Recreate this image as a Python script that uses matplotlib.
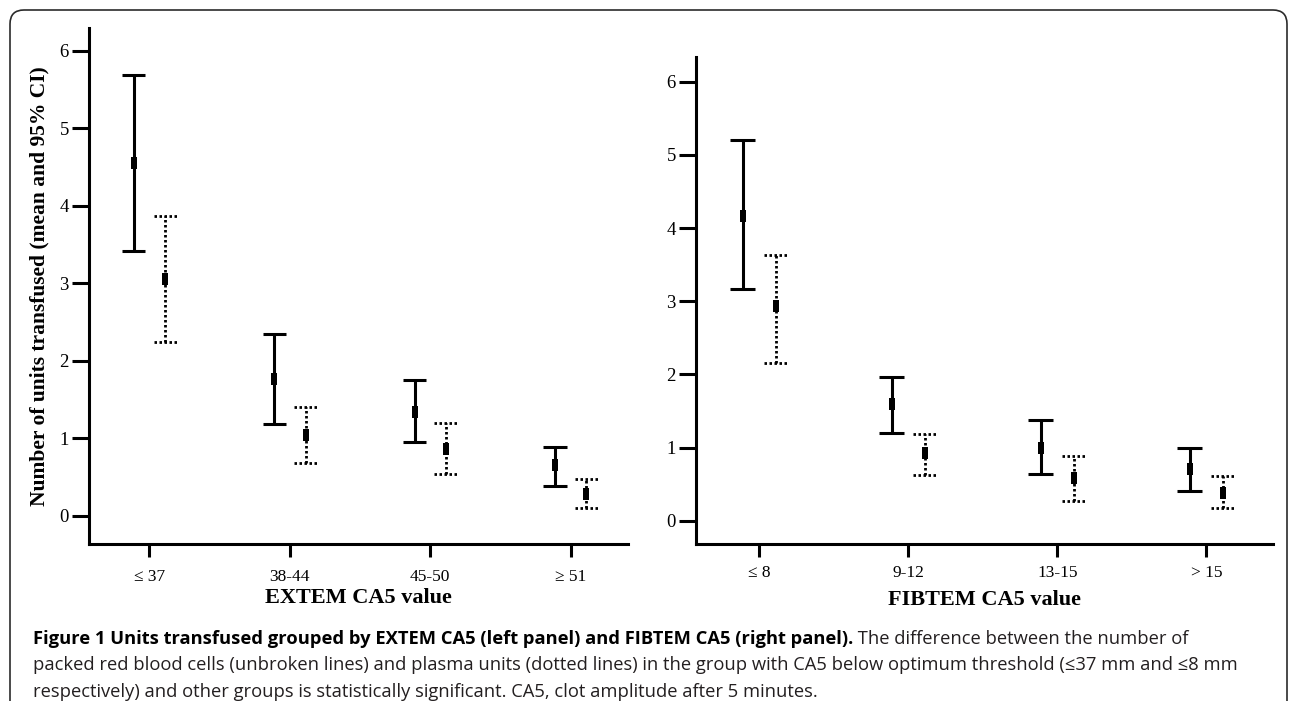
import matplotlib
matplotlib.use("Agg")
import matplotlib.pyplot as plt
from matplotlib.patches import FancyBboxPatch

# ---------------- data ----------------
extem_groups = ["≤ 37", "38-44", "45-50", "≥ 51"]
extem_rbc_mean = [4.55, 1.76, 1.34, 0.66]
extem_rbc_low = [3.41, 1.18, 0.95, 0.38]
extem_rbc_high = [5.69, 2.34, 1.75, 0.89]
extem_plasma_mean = [3.05, 1.04, 0.86, 0.28]
extem_plasma_low = [2.24, 0.68, 0.54, 0.10]
extem_plasma_high = [3.87, 1.40, 1.20, 0.48]

fibtem_groups = ["≤ 8", "9-12", "13-15", "> 15"]
fibtem_rbc_mean = [4.16, 1.60, 1.00, 0.70]
fibtem_rbc_low = [3.16, 1.20, 0.64, 0.40]
fibtem_rbc_high = [5.20, 1.96, 1.38, 0.99]
fibtem_plasma_mean = [2.93, 0.92, 0.59, 0.38]
fibtem_plasma_low = [2.16, 0.63, 0.27, 0.17]
fibtem_plasma_high = [3.63, 1.19, 0.88, 0.61]

y_ticks = [0, 1, 2, 3, 4, 5, 6]

# ---------------- figure ----------------
W, H = 1290, 701
fig = plt.figure(figsize=(W / 100, H / 100), dpi=100)
fig.patch.set_facecolor("white")

serif = ["Liberation Serif", "DejaVu Serif"]
rect_marker = [(-0.3, -0.5), (0.3, -0.5), (0.3, 0.5), (-0.3, 0.5), (-0.3, -0.5)]


def px_to_fig(x0, x1, ytop, ybot):
    return [x0 / W, 1 - ybot / H, (x1 - x0) / W, (ybot - ytop) / H]


def panel(rect, groups, rm, rl, rh, pm, pl, ph, ylim, xlim, xlabel, xpad, lpad):
    ax = fig.add_axes(rect)
    xs = list(range(len(groups)))
    off = 0.112
    cap = 0.082
    xr = [x - off for x in xs]
    xp = [x + off for x in xs]
    lw = 2.2
    # solid (red blood cells)
    ax.vlines(xr, rl, rh, colors="black", linewidth=lw, linestyles="solid")
    ax.hlines(rl, [x - cap for x in xr], [x + cap for x in xr], colors="black", linewidth=lw)
    ax.hlines(rh, [x - cap for x in xr], [x + cap for x in xr], colors="black", linewidth=lw)
    ax.plot(xr, rm, linestyle="none", marker=rect_marker, markersize=8,
            color="black", markeredgewidth=0)
    # dotted (plasma)
    dot = (0, (0.9, 0.9))
    ax.vlines(xp, pl, ph, colors="black", linewidth=2.0, linestyles=[dot])
    ax.hlines(pl, [x - cap for x in xp], [x + cap for x in xp], colors="black",
              linewidth=2.0, linestyles=[dot])
    ax.hlines(ph, [x - cap for x in xp], [x + cap for x in xp], colors="black",
              linewidth=2.0, linestyles=[dot])
    ax.plot(xp, pm, linestyle="none", marker=rect_marker, markersize=8,
            color="black", markeredgewidth=0)

    ax.set_xlim(*xlim)
    ax.set_ylim(*ylim)
    ax.set_xticks(xs)
    ax.set_xticklabels(groups, fontfamily=serif, fontsize=12.5)
    ax.set_yticks(y_ticks)
    ax.set_yticklabels([str(t) for t in y_ticks], fontfamily=serif, fontsize=13.5)
    for s in ["top", "right"]:
        ax.spines[s].set_visible(False)
    for s in ["left", "bottom"]:
        ax.spines[s].set_linewidth(2.2)
    ax.tick_params(axis="y", direction="out", length=12.5, width=2.2, pad=2)
    ax.tick_params(axis="x", direction="out", length=9, width=2.2, pad=xpad)
    ax.set_xlabel(xlabel, fontfamily=serif, fontsize=16, fontweight="bold", labelpad=lpad)
    return ax


ax1 = panel(px_to_fig(89, 628.3, 27.7, 544.0), extem_groups,
            extem_rbc_mean, extem_rbc_low, extem_rbc_high,
            extem_plasma_mean, extem_plasma_low, extem_plasma_high,
            (-0.365, 6.297), (-0.43, 3.41), "EXTEM CA5 value", 9, 2.5)
ax1.set_ylabel("Number of units transfused (mean and 95% CI)", fontfamily=serif,
               fontsize=15.5, fontweight="bold", labelpad=7)

ax2 = panel(px_to_fig(696, 1273.3, 56.7, 544.3), fibtem_groups,
            fibtem_rbc_mean, fibtem_rbc_low, fibtem_rbc_high,
            fibtem_plasma_mean, fibtem_plasma_low, fibtem_plasma_high,
            (-0.323, 6.342), (-0.425, 3.45), "FIBTEM CA5 value", 6, 6.5)

# ---------------- border ----------------
border = FancyBboxPatch((10, -30), 1277, H - 10 + 30, boxstyle="round,pad=0,rounding_size=14",
                        transform=None, facecolor="none", edgecolor="#2b2b2b", linewidth=1.2)
fig.patches.append(border)

# ---------------- caption ----------------
cap_font = ["Open Sans", "DejaVu Sans"]
cap_size = 13.2
cap_color = "#231f20"
x0 = 33 / W
b1 = 1 - 644 / H
b2 = 1 - 670.5 / H
b3 = 1 - 697 / H
t_bold = fig.text(x0, b1, "Figure 1 Units transfused grouped by EXTEM CA5 (left panel) and FIBTEM CA5 (right panel).",
                  fontfamily=cap_font, fontsize=cap_size, fontweight="bold", color="black",
                  va="baseline", ha="left")
renderer = fig.canvas.get_renderer()
bb = t_bold.get_window_extent(renderer=renderer)
fig.text(bb.x1 / W, b1, " The difference between the number of",
         fontfamily=cap_font, fontsize=cap_size, color=cap_color, va="baseline", ha="left")
fig.text(x0, b2, "packed red blood cells (unbroken lines) and plasma units (dotted lines) in the group with CA5 below optimum threshold (≤37 mm and ≤8 mm",
         fontfamily=cap_font, fontsize=cap_size, color=cap_color, va="baseline", ha="left")
fig.text(x0, b3, "respectively) and other groups is statistically significant. CA5, clot amplitude after 5 minutes.",
         fontfamily=cap_font, fontsize=cap_size, color=cap_color, va="baseline", ha="left")

fig.savefig("out.png", dpi=100, facecolor="white")
